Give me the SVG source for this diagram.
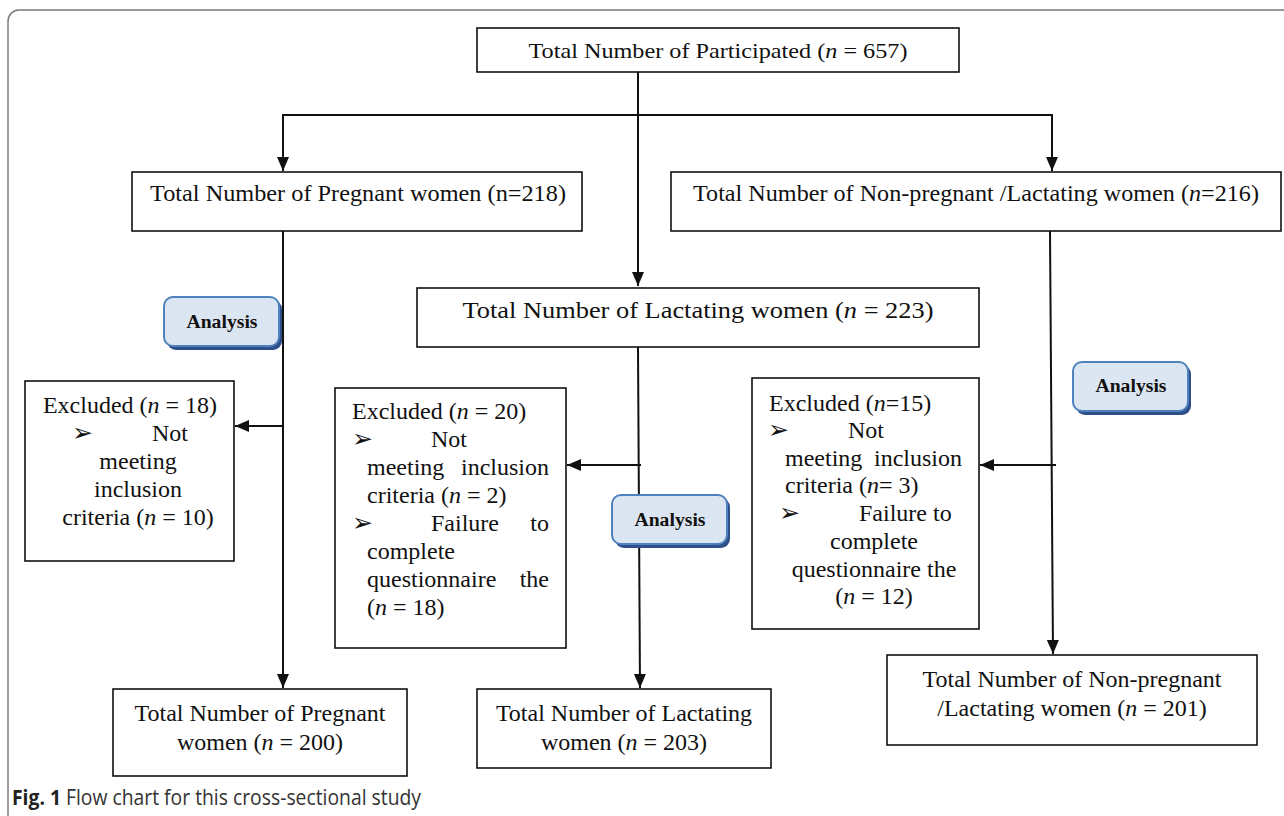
<svg xmlns="http://www.w3.org/2000/svg" width="1284" height="816" viewBox="0 0 1284 816">
<style>
.box{fill:#fff;stroke:#111;stroke-width:1.6}
.t{font-family:"Liberation Serif","Times New Roman",serif;font-size:24px;fill:#111}
.tc{text-anchor:middle}
.i{font-style:italic}
.bl{font-family:"DejaVu Sans",sans-serif;font-size:25px;fill:#111}
.btn{fill:#dce6f2;stroke:#4f81bd;stroke-width:2}
.sh{fill:#2f4f8a}
.bt{font-family:"Liberation Serif","Times New Roman",serif;font-size:18px;font-weight:bold;fill:#111;text-anchor:middle}
.ln{stroke:#111;stroke-width:2;fill:none}
.cap{font-family:"Open Sans","Noto Sans",sans-serif;font-size:21px;fill:#333}
</style>
<defs>
<marker id="ah" markerUnits="userSpaceOnUse" markerWidth="14" markerHeight="14" refX="14" refY="6" orient="auto">
<path d="M0,0 L14,6 L0,12 Z" fill="#111"/>
</marker>
</defs>
<rect x="0" y="0" width="1284" height="816" fill="#fff"/>
<rect id="frame" x="8" y="10" width="1300" height="820" rx="11" fill="none" stroke="#777" stroke-width="1.4"/>

<g id="connectors">
<path class="ln" d="M638,72 L638,286" marker-end="url(#ah)"/>
<path class="ln" d="M283,115 L1052,115"/>
<path class="ln" d="M283,114 L283,171" marker-end="url(#ah)"/>
<path class="ln" d="M1052,114 L1052,171" marker-end="url(#ah)"/>
<path class="ln" d="M283,231 L283,688" marker-end="url(#ah)"/>
<path class="ln" d="M283,426 L235,426" marker-end="url(#ah)"/>
<path class="ln" d="M638,347 L640,688" marker-end="url(#ah)"/>
<path class="ln" d="M641,465 L567,465" marker-end="url(#ah)"/>
<path class="ln" d="M1050,231 L1053,654" marker-end="url(#ah)"/>
<path class="ln" d="M1056,465 L980,465" marker-end="url(#ah)"/>
</g>

<g id="n-total">
<rect class="box" x="477" y="28" width="482" height="44"/>
<text class="t tc" x="718" y="58" style="font-size:22px" textLength="379" lengthAdjust="spacingAndGlyphs">Total Number of Participated (<tspan class="i">n</tspan> = 657)</text>
</g>

<g id="n-pregnant">
<rect class="box" x="132" y="172" width="450" height="59"/>
<text class="t tc" x="358" y="201" style="font-size:23px" textLength="416" lengthAdjust="spacingAndGlyphs">Total Number of Pregnant women (n=218)</text>
</g>

<g id="n-nonpregnant">
<rect class="box" x="671" y="172" width="610" height="59"/>
<text class="t tc" x="976" y="201" style="font-size:23px" textLength="566" lengthAdjust="spacingAndGlyphs">Total Number of Non-pregnant /Lactating women (<tspan class="i">n</tspan>=216)</text>
</g>

<g id="n-lactating">
<rect class="box" x="417" y="288" width="562" height="59"/>
<text class="t tc" x="698" y="318" style="font-size:24px" textLength="471" lengthAdjust="spacingAndGlyphs">Total Number of Lactating women (<tspan class="i">n</tspan> = 223)</text>
</g>

<g id="analysis1">
<rect class="sh" x="167" y="300" width="115" height="50" rx="9"/>
<rect class="btn" x="164" y="297" width="115" height="49" rx="9"/>
<text class="bt" x="222" y="328" textLength="71" lengthAdjust="spacingAndGlyphs">Analysis</text>
</g>

<g id="analysis2">
<rect class="sh" x="615" y="498" width="115" height="50" rx="9"/>
<rect class="btn" x="612" y="495" width="115" height="49" rx="9"/>
<text class="bt" x="670" y="526" textLength="71" lengthAdjust="spacingAndGlyphs">Analysis</text>
</g>

<g id="analysis3">
<rect class="sh" x="1076" y="365" width="115" height="50" rx="9"/>
<rect class="btn" x="1073" y="362" width="115" height="49" rx="9"/>
<text class="bt" x="1131" y="392" textLength="71" lengthAdjust="spacingAndGlyphs">Analysis</text>
</g>

<g id="n-excluded1">
<rect class="box" x="25" y="381" width="209" height="180"/>
<text class="t tc" x="130" y="413">Excluded (<tspan class="i">n</tspan> = 18)</text>
<text class="bl" x="72" y="441">➢</text>
<text class="t" x="152" y="441">Not</text>
<text class="t tc" x="138" y="469">meeting</text>
<text class="t tc" x="138" y="497">inclusion</text>
<text class="t tc" x="138" y="525">criteria (<tspan class="i">n</tspan> = 10)</text>
</g>

<g id="n-excluded2">
<rect class="box" x="335" y="388" width="231" height="260"/>
<text class="t" x="352" y="419">Excluded (<tspan class="i">n</tspan> = 20)</text>
<text class="bl" x="352" y="447">➢</text>
<text class="t" x="431" y="447">Not</text>
<text class="t" x="367" y="475">meeting</text>
<text class="t" x="549" y="475" text-anchor="end">inclusion</text>
<text class="t" x="367" y="503">criteria (<tspan class="i">n</tspan> = 2)</text>
<text class="bl" x="352" y="531">➢</text>
<text class="t" x="431" y="531">Failure</text>
<text class="t" x="549" y="531" text-anchor="end">to</text>
<text class="t" x="367" y="559">complete</text>
<text class="t" x="367" y="587">questionnaire</text>
<text class="t" x="549" y="587" text-anchor="end">the</text>
<text class="t" x="367" y="615">(<tspan class="i">n</tspan> = 18)</text>
</g>

<g id="n-excluded3">
<rect class="box" x="752" y="378" width="227" height="251"/>
<text class="t" x="769" y="411">Excluded (<tspan class="i">n</tspan>=15)</text>
<text class="bl" x="768" y="438">➢</text>
<text class="t" x="848" y="438">Not</text>
<text class="t" x="785" y="466">meeting</text>
<text class="t" x="962" y="466" text-anchor="end">inclusion</text>
<text class="t" x="785" y="493">criteria (<tspan class="i">n</tspan>= 3)</text>
<text class="bl" x="779" y="521">➢</text>
<text class="t" x="859" y="521">Failure to</text>
<text class="t tc" x="874" y="549">complete</text>
<text class="t tc" x="874" y="577">questionnaire the</text>
<text class="t tc" x="874" y="604">(<tspan class="i">n</tspan> = 12)</text>
</g>

<g id="n-pregnant-final">
<rect class="box" x="113" y="689" width="294" height="87"/>
<text class="t tc" x="260" y="721">Total Number of Pregnant</text>
<text class="t tc" x="260" y="750">women (<tspan class="i">n</tspan> = 200)</text>
</g>

<g id="n-lactating-final">
<rect class="box" x="477" y="689" width="294" height="79"/>
<text class="t tc" x="624" y="721">Total Number of Lactating</text>
<text class="t tc" x="624" y="750">women (<tspan class="i">n</tspan> = 203)</text>
</g>

<g id="n-nonpregnant-final">
<rect class="box" x="887" y="655" width="370" height="90"/>
<text class="t tc" x="1072" y="687">Total Number of Non-pregnant</text>
<text class="t tc" x="1072" y="716">/Lactating women (<tspan class="i">n</tspan> = 201)</text>
</g>

<text class="cap" x="12" y="805" textLength="409" lengthAdjust="spacingAndGlyphs"><tspan font-weight="bold" fill="#222">Fig. 1</tspan>  Flow chart for this cross-sectional study</text>
</svg>
